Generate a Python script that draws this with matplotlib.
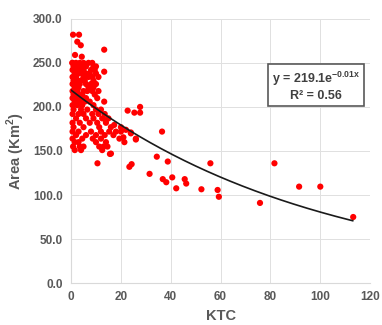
import numpy as np
import matplotlib
matplotlib.use("Agg")
import matplotlib.pyplot as plt
from matplotlib.ticker import FormatStrFormatter

plt.rcParams["font.family"] = "Liberation Sans"
plt.rcParams["mathtext.fontset"] = "custom"
plt.rcParams["mathtext.rm"] = "Liberation Sans"
plt.rcParams["mathtext.bf"] = "Liberation Sans:bold"

# dense cluster near the origin
ktc_dense = [0.8, 3.2, 2.5, 3.9, 13.3, 1.6, 4.3, 0.5, 13.3, 13.3,
             0.6, 2, 3.5, 5, 7, 8.5,
             1, 2.5, 4, 6, 9, 10,
             0.6, 2, 3, 5, 8, 9.5,
             1.5, 3, 4.5, 6, 7.5, 10,
             0.6, 2, 5, 7, 8.5, 11,
             1, 2.5, 4, 5.5, 9,
             0.6, 2, 3.5, 6, 8, 10,
             1.5, 3, 7, 9,
             0.6, 2.5, 5, 6.5, 8.5, 11,
             1, 3, 4.5, 9.5,
             0.6, 2, 4, 6, 10.5,
             1.5, 3.5, 5.5, 7.5,
             0.6, 2.5, 4.5, 9]
area_dense = [282, 282, 274, 270, 265, 259, 257, 250, 240, 206,
              250, 250, 250, 250, 250, 250,
              246, 246, 246, 246, 246, 246,
              242, 242, 242, 242, 242, 242,
              238, 238, 238, 238, 238, 238,
              234, 234, 234, 234, 234, 234,
              230, 230, 230, 230, 230,
              226, 226, 226, 226, 226, 226,
              222, 222, 222, 222,
              218, 218, 218, 218, 218, 218,
              214, 214, 214, 214,
              210, 210, 210, 210, 210,
              206, 206, 206, 206,
              202, 202, 202, 202]

# lower part of the cluster
ktc_low = [1, 4, 6.5, 10, 12,
           0.6, 3, 5, 8.5, 11, 13.5,
           2, 6, 9, 12.5, 15,
           0.6, 3.5, 7.5, 10.5, 14,
           1, 5, 11.3, 16,
           0.6, 3, 8, 12, 15.3, 18,
           2, 6, 10, 13.5, 17,
           0.6, 4.5, 8.7, 12, 19.4,
           1.5, 3, 10, 14, 21.4,
           0.8, 3.5, 5, 11.3, 13, 14.6,
           1.5, 4, 12.5, 10.6, 15.6, 16]
area_low = [197, 197, 197, 197, 197,
            192, 192, 192, 192, 192, 192,
            187, 187, 187, 187, 187,
            182, 182, 182, 182, 182,
            177, 177, 177, 177,
            172, 172, 172, 172, 172, 172,
            168, 168, 168, 168, 168,
            164, 164, 164, 164, 164,
            160, 160, 160, 160, 160,
            155, 155, 155, 155, 155, 155,
            151, 151, 151, 136, 146.6, 147]

# scattered points further out
ktc_mid = [20, 22, 24, 21, 26, 22.7, 25.4, 27.7, 27.7, 17.3, 14, 20, 24, 26,
           36.5, 34.4, 38.8, 23.4, 24.3, 31.5, 36.8, 38.2, 40.6, 42.2,
           45.6, 46.2, 52.3, 55.9, 58.8, 59.3, 75.8, 81.6, 91.5, 100, 113.2]
area_mid = [177, 174, 171, 165.5, 163, 195.8, 193.5, 200, 193.5, 179.5, 185, 172, 170, 164,
            172, 143.5, 138, 132, 135, 124, 118, 114.5, 120, 107.6,
            118, 113, 106.5, 136, 105.7, 98, 91, 136, 109.5, 109.5, 75]

ktc = ktc_dense + ktc_low + ktc_mid
area = area_dense + area_low + area_mid

# exponential trendline from the chart label
coef_a = 219.1
coef_b = -0.01
trend_x = np.linspace(0, 113, 200)
trend_y = coef_a * np.exp(coef_b * trend_x)

txt = "#595959"

fig = plt.figure(figsize=(3.82, 3.25), dpi=100)
ax = fig.add_axes([0.186, 0.129, 0.783, 0.813])

ax.scatter(ktc, area, s=20, color="#ff0000", edgecolors="none", zorder=3, clip_on=False)
ax.plot(trend_x, trend_y, color="#1a1a1a", linewidth=1.2, zorder=4)

ax.set_xlim(0, 120)
ax.set_ylim(0, 300)
ax.set_xticks(np.arange(0, 121, 20))
ax.set_yticks(np.arange(0, 301, 50))
ax.yaxis.set_major_formatter(FormatStrFormatter("%.1f"))
ax.grid(True, color="#e0e0e0", linewidth=0.7)
ax.set_axisbelow(True)
for side in ["top", "right"]:
    ax.spines[side].set_visible(False)
for side in ["left", "bottom"]:
    ax.spines[side].set_color("#d9d9d9")
    ax.spines[side].set_linewidth(0.8)
ax.tick_params(length=0, pad=6, labelsize=8.5, labelcolor=txt)
for lab in ax.get_xticklabels() + ax.get_yticklabels():
    lab.set_fontweight("bold")

ax.set_xlabel("KTC", fontsize=10.5, fontweight="bold", color=txt, labelpad=4)
ax.set_ylabel("Area (Km$^{\\mathbf{2}}$)", fontsize=10.5, fontweight="bold", color=txt, labelpad=4)

ax.text(0.82, 0.746, "y = 219.1e$^{\\mathbf{-0.01x}}$\nR² = 0.56",
        transform=ax.transAxes, ha="center", va="center", fontsize=9,
        fontweight="bold", color="#404040", linespacing=1.2, zorder=5,
        bbox=dict(boxstyle="square,pad=0.3", facecolor="white",
                  edgecolor="#595959", linewidth=1.2))

fig.savefig("out.png", dpi=100)
